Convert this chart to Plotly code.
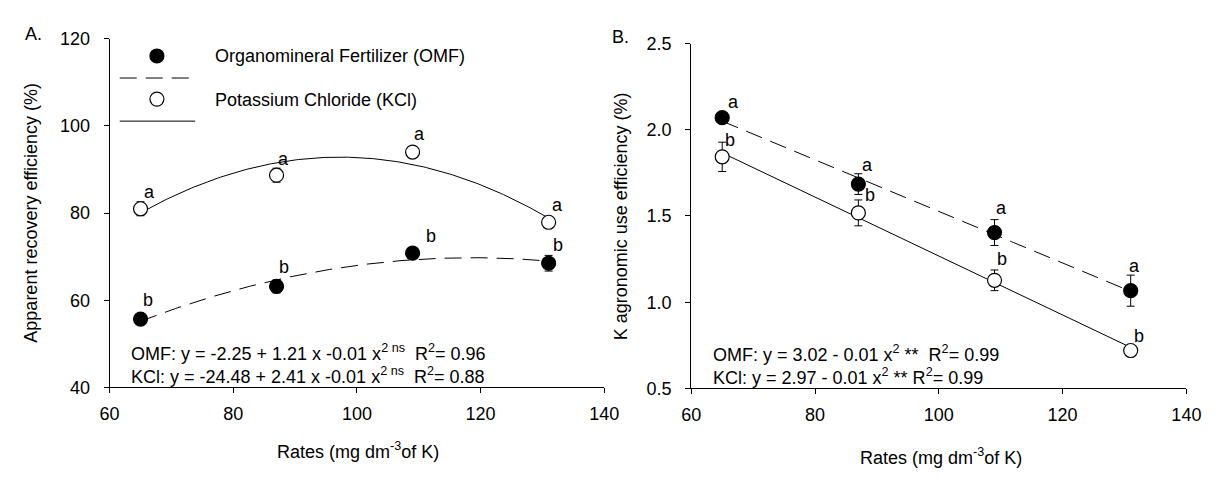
import numpy as np
import plotly.graph_objects as go

# ---------------- data ----------------
rates = [65, 87, 109, 131]

are_omf = [55.7, 63.2, 70.8, 68.5]
are_omf_err = [1.0, 1.5, 1.0, 1.8]
are_kcl = [81.0, 88.7, 94.0, 77.9]
are_kcl_err = [1.6, 1.6, 1.0, 1.0]
are_omf_letters = ["b", "b", "b", "b"]
are_kcl_letters = ["a", "a", "a", "a"]

aue_omf = [2.07, 1.685, 1.404, 1.067]
aue_omf_err = [0.03, 0.06, 0.075, 0.09]
aue_kcl = [1.843, 1.518, 1.127, 0.72]
aue_kcl_err = [0.085, 0.075, 0.06, 0.02]
aue_omf_letters = ["a", "a", "a", "a"]
aue_kcl_letters = ["b", "b", "b", "b"]

x_ticks = [60, 80, 100, 120, 140]
are_ticks = [40, 60, 80, 100, 120]
aue_ticks = [0.5, 1.0, 1.5, 2.0, 2.5]

# ---------------- style ----------------
W, H = 1220, 477
FONT = "Arial, Liberation Sans, sans-serif"
FS = 18
DASH = "17px,9px"


def px(x):
    return x / W


def py(y):
    return 1 - y / H


fig = go.Figure()

# fitted curves (from data)
xs = np.linspace(min(rates), max(rates), 200)
fits = [
    (are_omf, 2, "x", "y", "dash"),
    (are_kcl, 2, "x", "y", "solid"),
    (aue_omf, 1, "x2", "y2", "dash"),
    (aue_kcl, 1, "x2", "y2", "solid"),
]
for vals, deg, xa, ya, dash in fits:
    coef = np.polyfit(rates, vals, deg)
    fig.add_trace(go.Scatter(
        x=xs, y=np.polyval(coef, xs), mode="lines", xaxis=xa, yaxis=ya,
        line=dict(color="black", width=1, dash=DASH if dash == "dash" else "solid"),
        hoverinfo="skip", showlegend=False))

# points
pts = [
    (are_omf, are_omf_err, "x", "y", "black"),
    (are_kcl, are_kcl_err, "x", "y", "white"),
    (aue_omf, aue_omf_err, "x2", "y2", "black"),
    (aue_kcl, aue_kcl_err, "x2", "y2", "white"),
]
for vals, err, xa, ya, fill in pts:
    fig.add_trace(go.Scatter(
        x=rates, y=vals, mode="markers", xaxis=xa, yaxis=ya,
        marker=dict(size=14, color=fill, line=dict(color="black", width=1.2)),
        error_y=dict(type="data", array=err, color="black", thickness=1, width=4),
        showlegend=False))

annotations = []

# significance letters
letter_sets = [
    (are_omf, are_omf_letters, "x", "y", [(7, 19), (7, 19), (18, 17), (9, 18)]),
    (are_kcl, are_kcl_letters, "x", "y", [(9, 17), (7, 16), (7, 18), (9, 17)]),
    (aue_omf, aue_omf_letters, "x2", "y2", [(11, 16), (9, 19), (7, 25), (4, 25)]),
    (aue_kcl, aue_kcl_letters, "x2", "y2", [(8, 17), (12, 18), (7, 21), (8, 15)]),
]
for vals, letters, xa, ya, offs in letter_sets:
    for xv, yv, t, (dx, dy) in zip(rates, vals, letters, offs):
        annotations.append(dict(
            x=xv, y=yv, xref=xa, yref=ya, text=t, showarrow=False,
            xshift=dx, yshift=dy, font=dict(size=FS, color="black", family=FONT)))


def ptext(x, y, text, xanchor="left", angle=0, size=FS):
    annotations.append(dict(
        x=px(x), y=py(y), xref="paper", yref="paper", text=text, showarrow=False,
        xanchor=xanchor, yanchor="middle", textangle=angle,
        font=dict(size=size, color="black", family=FONT)))


# panel letters
ptext(13, 25, "A.")
ptext(613, 28, "B.")

# axis titles
ptext(22, 212, "Apparent recovery efficiency (%)", xanchor="center", angle=-90)
ptext(624, 215, "K agronomic use efficiency (%)", xanchor="center", angle=-90)
ptext(355, 460, "Rates (mg dm<sup>-3</sup>of K)", xanchor="center")
ptext(950, 466, "Rates (mg dm<sup>-3</sup>of K)", xanchor="center")

# equations
ptext(121, 358, "OMF: y = -2.25 + 1.21 x -0.01 x<sup>2 ns</sup>&nbsp; R<sup>2</sup>= 0.96")
ptext(121, 382, "KCl: y = -24.48 + 2.41 x -0.01 x<sup>2 ns</sup>&nbsp; R<sup>2</sup>= 0.88")
ptext(716, 359, "OMF: y = 3.02 - 0.01 x<sup>2</sup> **&nbsp; R<sup>2</sup>= 0.99")
ptext(716, 383, "KCl: y = 2.97 - 0.01 x<sup>2</sup> ** R<sup>2</sup>= 0.99")

# legend text
ptext(207, 48, "Organomineral Fertilizer (OMF)")
ptext(207, 94, "Potassium Chloride (KCl)")

# legend symbols
shapes = []
for cy, fill in [(48, "black"), (93, "white")]:
    shapes.append(dict(
        type="circle", xref="paper", yref="paper", xsizemode="pixel", ysizemode="pixel",
        xanchor=px(150), yanchor=py(cy), x0=-7, x1=7, y0=-7, y1=7,
        fillcolor=fill, line=dict(color="black", width=1.2)))
shapes.append(dict(type="line", xref="paper", yref="paper",
                   x0=px(112), x1=px(183), y0=py(71), y1=py(71),
                   line=dict(color="black", width=1, dash=DASH)))
shapes.append(dict(type="line", xref="paper", yref="paper",
                   x0=px(112), x1=px(189), y0=py(116), y1=py(116),
                   line=dict(color="black", width=1)))

axis_common = dict(
    showline=True, linecolor="black", linewidth=1, ticks="outside", ticklen=5,
    tickcolor="black", tickwidth=1, showgrid=False, zeroline=False,
    tickfont=dict(size=FS, color="black", family=FONT), mirror=False)

fig.update_layout(
    width=W, height=H, margin=dict(l=0, r=0, t=0, b=0),
    paper_bgcolor="white", plot_bgcolor="white", showlegend=False,
    font=dict(family=FONT, color="black"),
    xaxis=dict(domain=[px(101.7), px(606.7)], anchor="y", range=[60, 140],
               tickvals=x_ticks, ticklabelstandoff=5, **axis_common),
    yaxis=dict(domain=[py(394), py(30)], anchor="x", range=[40, 120],
               tickvals=are_ticks, ticklabelstandoff=10, **axis_common),
    xaxis2=dict(domain=[px(695.5), px(1201)], anchor="y2", range=[60, 140],
                tickvals=x_ticks, ticklabelstandoff=5, **axis_common),
    yaxis2=dict(domain=[py(395), py(35)], anchor="x2", range=[0.5, 2.5],
                tickvals=aue_ticks, tickformat=".1f", ticklabelstandoff=10, **axis_common),
    annotations=annotations, shapes=shapes,
)

fig.write_html("out.html")
